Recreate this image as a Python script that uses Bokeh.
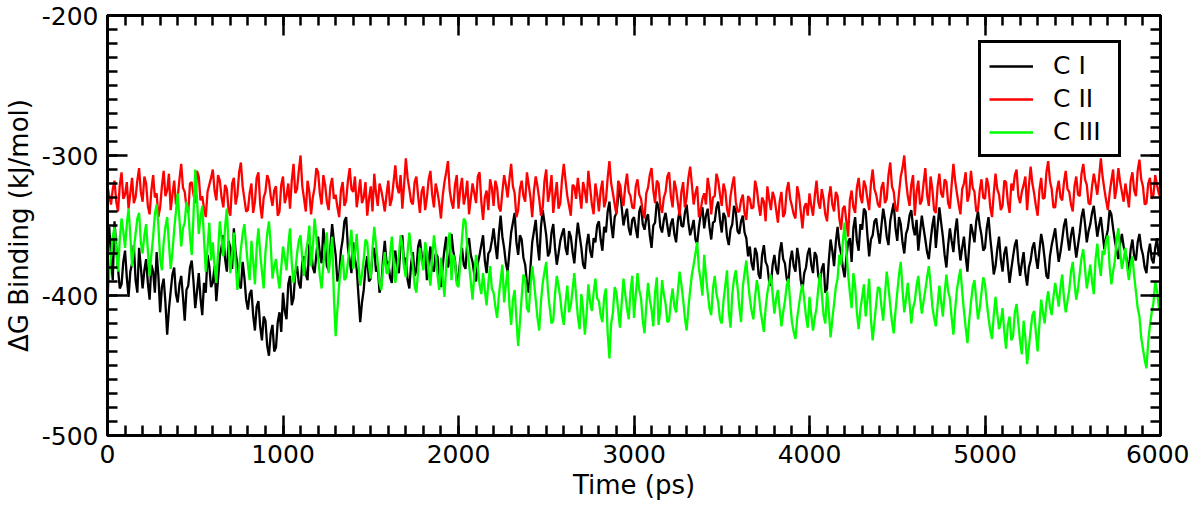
from bokeh.plotting import figure
from bokeh.models import (Range1d, LinearAxis, SingleIntervalTicker, Legend,
                          LegendItem, ColumnDataSource)
from bokeh.embed import file_html
from bokeh.resources import INLINE

# ---------------- data (one value every 10 ps) ----------
sample_step_ps = 10

c_I = [
    -358, -351, -372, -389, -347, -366, -381, -395, -392, -376, -368, -387, -401, -383, -377, -364, -389, -398, -366, -380,
    -395, -382, -374, -391, -403, -378, -383, -398, -369, -386, -412, -394, -388, -405, -428, -410, -397, -385, -380, -399,
    -405, -392, -386, -401, -418, -396, -393, -380, -375, -390, -409, -397, -384, -402, -414, -391, -398, -371, -379, -394,
    -391, -379, -404, -388, -372, -365, -357, -374, -383, -361, -366, -381, -352, -369, -378, -392, -395, -376, -387, -403,
    -410, -399, -396, -414, -425, -408, -404, -422, -432, -415, -418, -436, -443, -427, -421, -440, -437, -419, -412, -426,
    -398, -411, -417, -392, -386, -407, -402, -384, -379, -391, -395, -376, -372, -385, -389, -363, -367, -380, -384, -371,
    -358, -370, -377, -352, -363, -379, -382, -366, -349, -361, -371, -390, -386, -368, -360, -347, -344, -366, -375, -384,
    -362, -374, -381, -400, -419, -405, -396, -380, -372, -390, -388, -370, -366, -383, -379, -398, -393, -374, -361, -377,
    -376, -387, -391, -372, -368, -380, -384, -363, -357, -378, -373, -389, -395, -377, -369, -386, -382, -365, -360, -371,
    -378, -367, -389, -376, -365, -381, -383, -370, -372, -388, -394, -379, -367, -358, -380, -373, -356, -368, -375, -390,
    -387, -374, -366, -378, -381, -362, -359, -371, -376, -385, -390, -377, -371, -364, -357, -375, -384, -370, -368, -361,
    -352, -364, -374, -356, -343, -358, -366, -377, -383, -369, -355, -348, -341, -362, -371, -357, -360, -373, -378, -391,
    -398, -380, -362, -354, -346, -363, -375, -351, -339, -348, -357, -372, -369, -355, -349, -366, -378, -370, -361, -356,
    -352, -366, -371, -354, -358, -369, -377, -361, -348, -357, -366, -378, -381, -364, -356, -368, -373, -359, -362, -350,
    -347, -360, -368, -351, -355, -340, -333, -349, -359, -344, -341, -330, -321, -337, -350, -343, -338, -352, -357, -346,
    -344, -352, -359, -340, -336, -349, -353, -345, -342, -357, -366, -350, -348, -333, -337, -351, -355, -346, -341, -350,
    -358, -349, -345, -356, -362, -347, -339, -350, -351, -341, -335, -348, -357, -352, -346, -360, -363, -351, -342, -337,
    -352, -343, -338, -351, -360, -348, -347, -337, -333, -346, -355, -341, -344, -358, -364, -353, -349, -336, -340, -354,
    -356, -347, -343, -355, -359, -372, -365, -377, -382, -366, -370, -385, -388, -371, -364, -376, -379, -390, -393, -378,
    -371, -381, -385, -369, -362, -374, -377, -388, -391, -375, -368, -379, -383, -366, -374, -389, -396, -384, -380, -370,
    -366, -378, -384, -369, -372, -386, -390, -381, -377, -398, -395, -375, -360, -368, -379, -362, -351, -364, -370, -380,
    -387, -373, -362, -359, -376, -352, -344, -361, -368, -349, -353, -338, -340, -357, -372, -360, -357, -347, -345, -355,
    -363, -350, -338, -346, -358, -364, -347, -340, -334, -352, -361, -344, -349, -362, -370, -356, -352, -343, -339, -351,
    -357, -346, -368, -355, -343, -352, -360, -369, -374, -361, -350, -343, -366, -351, -337, -348, -358, -371, -380, -364,
    -352, -361, -369, -354, -345, -363, -375, -366, -358, -372, -383, -365, -349, -355, -362, -347, -340, -350, -357, -368,
    -366, -352, -344, -359, -371, -385, -379, -367, -358, -374, -383, -370, -365, -378, -391, -381, -372, -364, -360, -376,
    -386, -377, -369, -384, -393, -380, -375, -366, -362, -373, -381, -368, -356, -363, -374, -386, -388, -372, -364, -358,
    -352, -365, -376, -369, -360, -350, -345, -358, -368, -357, -351, -362, -373, -364, -355, -344, -338, -349, -362, -354,
    -349, -341, -336, -347, -358, -350, -344, -355, -367, -359, -353, -339, -342, -352, -361, -368, -374, -363, -356, -365,
    -369, -376, -382, -367, -360, -372, -375, -362, -356, -366, -371, -380, -384, -370, -363, -374, -377, -366, -359, -372,
    -366,
]

c_II = [
    -322, -329, -335, -324, -318, -333, -340, -321, -312, -331, -328, -319, -338, -327, -316, -334, -330, -318, -309, -326,
    -333, -315, -320, -336, -342, -325, -314, -330, -327, -344, -337, -322, -311, -329, -325, -313, -339, -328, -318, -335,
    -330, -317, -306, -323, -326, -337, -341, -320, -319, -328, -334, -311, -315, -332, -329, -338, -344, -326, -321, -316,
    -310, -325, -332, -314, -318, -330, -337, -321, -324, -339, -343, -320, -316, -335, -328, -312, -305, -322, -331, -340,
    -339, -327, -320, -341, -333, -316, -312, -335, -345, -330, -326, -314, -318, -329, -336, -325, -322, -343, -340, -321,
    -315, -334, -329, -320, -338, -318, -306, -327, -324, -311, -300, -322, -331, -340, -318, -326, -342, -330, -323, -309,
    -312, -327, -335, -314, -321, -333, -339, -322, -316, -331, -328, -337, -344, -325, -319, -336, -332, -318, -309, -324,
    -326, -315, -337, -328, -317, -334, -330, -319, -343, -331, -322, -340, -313, -327, -336, -320, -325, -332, -340, -328,
    -318, -336, -331, -319, -307, -322, -327, -314, -338, -321, -302, -316, -324, -333, -335, -319, -315, -329, -341, -326,
    -322, -339, -330, -317, -311, -328, -337, -320, -326, -334, -345, -329, -319, -312, -304, -325, -333, -338, -321, -314,
    -338, -324, -316, -335, -329, -318, -342, -331, -320, -327, -334, -315, -312, -333, -346, -330, -325, -339, -317, -323,
    -336, -318, -323, -337, -340, -326, -314, -321, -330, -317, -306, -322, -327, -344, -339, -324, -318, -329, -333, -312,
    -321, -330, -344, -325, -315, -322, -331, -343, -337, -318, -310, -333, -326, -314, -341, -329, -319, -338, -334, -317,
    -306, -318, -329, -336, -343, -321, -322, -331, -316, -327, -338, -319, -325, -334, -311, -323, -335, -342, -320, -328,
    -340, -325, -318, -337, -332, -316, -304, -320, -327, -335, -342, -318, -321, -330, -336, -322, -313, -326, -329, -337,
    -338, -322, -317, -328, -331, -340, -345, -327, -323, -314, -309, -325, -334, -318, -320, -336, -341, -330, -326, -315,
    -312, -329, -337, -318, -324, -334, -343, -326, -319, -337, -330, -316, -308, -321, -335, -327, -322, -344, -339, -331,
    -327, -335, -316, -324, -342, -330, -329, -313, -318, -328, -336, -320, -325, -338, -344, -329, -321, -315, -333, -340,
    -340, -332, -328, -341, -346, -329, -331, -338, -337, -318, -324, -335, -343, -330, -333, -347, -322, -331, -339, -326,
    -330, -339, -348, -333, -326, -344, -341, -325, -319, -331, -336, -342, -345, -322, -328, -340, -352, -337, -334, -343,
    -327, -336, -343, -329, -318, -333, -338, -324, -331, -342, -347, -330, -322, -335, -340, -326, -329, -345, -353, -338,
    -336, -347, -358, -332, -325, -337, -341, -323, -316, -329, -334, -318, -322, -331, -339, -320, -310, -324, -328, -335,
    -337, -323, -319, -334, -331, -314, -305, -322, -326, -338, -340, -327, -315, -309, -300, -318, -329, -336, -321, -314,
    -343, -326, -318, -335, -332, -320, -309, -328, -336, -315, -324, -339, -341, -322, -313, -327, -330, -317, -319, -334,
    -338, -321, -306, -318, -327, -335, -342, -324, -320, -312, -333, -328, -311, -323, -326, -340, -339, -325, -317, -330,
    -331, -316, -322, -337, -344, -327, -313, -324, -328, -339, -336, -318, -319, -333, -341, -320, -325, -314, -310, -329,
    -334, -326, -321, -315, -339, -322, -308, -320, -327, -336, -343, -325, -316, -331, -330, -312, -304, -318, -324, -337,
    -337, -325, -318, -330, -332, -319, -311, -324, -326, -335, -340, -322, -315, -328, -329, -313, -306, -317, -321, -334,
    -335, -322, -313, -320, -328, -316, -302, -315, -324, -332, -339, -327, -318, -310, -331, -323, -309, -319, -326, -333,
    -320, -328, -337, -318, -312, -325, -329, -311, -303, -317, -322, -335, -334, -320, -316, -331, -328, -314, -321, -327,
    -330,
]

c_III = [
    -402, -385, -372, -358, -351, -368, -383, -360, -345, -354, -366, -349, -338, -357, -379, -367, -356, -345, -341, -362,
    -370, -357, -349, -368, -386, -371, -358, -342, -335, -350, -374, -382, -362, -351, -344, -363, -381, -369, -353, -340,
    -327, -346, -365, -352, -348, -333, -339, -358, -371, -343, -310, -331, -356, -344, -336, -360, -383, -366, -348, -375,
    -362, -380, -391, -369, -347, -359, -372, -351, -338, -365, -384, -370, -355, -377, -396, -381, -367, -356, -349, -364,
    -378, -389, -361, -375, -392, -366, -352, -370, -383, -395, -369, -356, -347, -364, -388, -379, -374, -386, -395, -380,
    -365, -373, -382, -364, -352, -377, -391, -383, -370, -361, -357, -374, -386, -369, -362, -350, -379, -366, -345, -358,
    -373, -386, -395, -378, -366, -355, -384, -372, -358, -401, -429, -410, -392, -380, -371, -389, -387, -376, -364, -353,
    -381, -370, -356, -377, -393, -385, -374, -360, -362, -379, -388, -366, -351, -364, -377, -391, -396, -380, -369, -384,
    -384, -371, -358, -376, -391, -381, -372, -357, -364, -380, -387, -369, -355, -368, -379, -393, -398, -382, -366, -375,
    -382, -362, -369, -384, -393, -374, -357, -368, -385, -396, -373, -388, -401, -379, -362, -355, -389, -371, -376, -392,
    -394, -377, -359, -345, -347, -366, -378, -390, -403, -385, -371, -380, -392, -399, -384, -396, -407, -391, -379, -395,
    -398, -408, -416, -400, -389, -378, -405, -392, -382, -407, -421, -403, -396, -417, -436, -419, -401, -385, -388, -409,
    -412, -394, -379, -390, -403, -416, -425, -404, -391, -383, -376, -397, -409, -420, -418, -399, -386, -393, -402, -414,
    -421, -405, -393, -412, -407, -396, -384, -400, -415, -424, -399, -410, -428, -413, -392, -405, -411, -398, -388, -402,
    -404, -414, -419, -401, -395, -427, -445, -420, -412, -394, -398, -411, -423, -405, -388, -399, -409, -417, -397, -386,
    -416, -400, -384, -396, -402, -418, -427, -407, -391, -403, -410, -422, -398, -387, -421, -411, -389, -399, -406, -419,
    -418, -404, -395, -408, -412, -397, -383, -392, -403, -416, -425, -409, -396, -385, -378, -370, -362, -381, -389, -400,
    -371, -386, -398, -409, -414, -395, -386, -399, -405, -417, -420, -404, -393, -382, -411, -423, -399, -388, -382, -394,
    -408, -419, -394, -384, -375, -390, -402, -411, -417, -401, -389, -397, -410, -418, -426, -409, -398, -391, -385, -399,
    -413, -402, -396, -410, -422, -412, -404, -393, -388, -405, -419, -426, -431, -416, -407, -398, -392, -403, -415, -423,
    -401, -414, -425, -416, -409, -395, -384, -399, -414, -420, -397, -411, -430, -417, -406, -394, -388, -371, -378, -362,
    -348, -367, -385, -398, -409, -384, -393, -412, -424, -410, -401, -392, -415, -403, -388, -417, -432, -419, -406, -394,
    -395, -408, -418, -400, -383, -394, -407, -419, -427, -411, -398, -385, -376, -396, -412, -402, -391, -405, -420, -409,
    -404, -393, -386, -401, -413, -404, -396, -387, -379, -392, -408, -416, -422, -407, -393, -404, -415, -398, -385, -397,
    -402, -416, -428, -410, -396, -388, -381, -397, -411, -423, -434, -418, -405, -394, -389, -403, -417, -409, -398, -387,
    -392, -405, -416, -425, -431, -414, -401, -413, -424, -419, -409, -426, -438, -421, -415, -432, -429, -412, -406, -420,
    -433, -442, -418, -430, -449, -437, -425, -414, -411, -427, -440, -421, -403, -412, -420, -405, -397, -408, -414, -401,
    -391, -399, -408, -394, -385, -402, -412, -404, -396, -383, -376, -391, -403, -395, -384, -373, -367, -381, -395, -387,
    -378, -390, -399, -374, -363, -377, -386, -368, -371, -361, -357, -379, -392, -383, -375, -360, -352, -369, -381, -374,
    -366, -380, -389, -377, -372, -386, -397, -409, -415, -430, -438, -446, -452, -433, -421, -412, -405, -390, -396, -408,
    -412,
]

series_names = ["C I", "C II", "C III"]
series_colors = ["#000000", "#ff0000", "#00ff00"]

x_ticks = [0, 1000, 2000, 3000, 4000, 5000, 6000]
y_ticks = [-500, -400, -300, -200]
y_tick_labels = ["-500", "-400", "-300", "-200"]

x_label = "Time (ps)"
y_label = "\u0394G Binding (kJ/mol)"

# ---------------- figure -------------------------------------------------------
FONT = "DejaVu Sans"
FS = "25px"
FS_LABEL = "26px"

p = figure(frame_width=1053, frame_height=420, output_backend="svg",
           toolbar_location=None,
           x_range=Range1d(0, 6000), y_range=Range1d(-500, -200),
           min_border_left=102, min_border_right=29, min_border_top=15,
           min_border_bottom=60, x_axis_label=x_label, y_axis_label=y_label)
p.background_fill_color = "white"
p.border_fill_color = "white"
p.outline_line_color = "black"
p.outline_line_width = 3
p.xgrid.visible = False
p.ygrid.visible = False

renderers = []
for vals, color in zip([c_I, c_II, c_III], series_colors):
    src = ColumnDataSource(dict(t=[i * sample_step_ps for i in range(len(vals))],
                                v=vals))
    r = p.line("t", "v", source=src, line_color=color, line_width=2.3)
    renderers.append(r)


def style_axis(ax, labels=True):
    ax.axis_line_width = 3
    ax.axis_line_color = "black"
    ax.major_tick_in = 20
    ax.major_tick_out = 0
    ax.minor_tick_in = 10
    ax.minor_tick_out = 0
    ax.major_tick_line_width = 2.5
    ax.minor_tick_line_width = 2.5
    ax.major_tick_line_color = "black"
    ax.minor_tick_line_color = "black"
    if labels:
        ax.major_label_text_font = FONT
        ax.major_label_text_font_size = FS
        ax.major_label_text_color = "black"
        ax.axis_label_text_font = FONT
        ax.axis_label_text_font_size = FS_LABEL
        ax.axis_label_text_font_style = "normal"
        ax.axis_label_text_color = "black"
    else:
        ax.major_label_text_font_size = "1px"
        ax.major_label_standoff = 0
        ax.axis_label = None


p.xaxis[0].ticker = SingleIntervalTicker(interval=1000, num_minor_ticks=10)
p.yaxis[0].ticker = SingleIntervalTicker(interval=100, num_minor_ticks=10)
p.yaxis[0].major_label_overrides = {v: s for v, s in zip(y_ticks, y_tick_labels)}
style_axis(p.xaxis[0])
style_axis(p.yaxis[0])
p.xaxis[0].major_label_standoff = 9
p.yaxis[0].major_label_standoff = 9
p.xaxis[0].axis_label_standoff = 4
p.yaxis[0].axis_label_standoff = 5

top = LinearAxis(ticker=SingleIntervalTicker(interval=1000, num_minor_ticks=10))
right = LinearAxis(ticker=SingleIntervalTicker(interval=100, num_minor_ticks=10))
style_axis(top, labels=False)
style_axis(right, labels=False)
top.major_label_overrides = {v: "" for v in x_ticks}
right.major_label_overrides = {v: "" for v in y_ticks}
p.add_layout(top, "above")
p.add_layout(right, "right")

legend = Legend(items=[LegendItem(label=n, renderers=[r])
                       for n, r in zip(series_names, renderers)],
                location=(871, 278), margin=0, padding=8, spacing=4,
                label_height=24, glyph_height=24, glyph_width=44,
                label_standoff=20, label_width=57,
                label_text_font=FONT, label_text_font_size=FS,
                label_text_color="black",
                border_line_color="black", border_line_width=3,
                border_line_alpha=1.0,
                background_fill_color="white", background_fill_alpha=1.0)
p.add_layout(legend, "center")

open("out.html", "w").write(file_html(p, INLINE))
